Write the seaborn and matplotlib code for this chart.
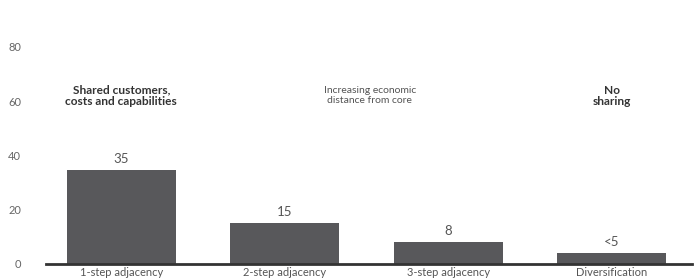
import matplotlib
matplotlib.use("Agg")
import matplotlib.pyplot as plt
import seaborn as sns
import pandas as pd

categories = ["1-step adjacency", "2-step adjacency", "3-step adjacency", "Diversification"]
values = [34.7, 15.2, 8.0, 4.2]
value_labels = ["35", "15", "8", "<5"]
yticks = [0, 20, 40, 60, 80]

sns.set_theme(style="white")
plt.rcParams['font.family'] = ['Lato', 'DejaVu Sans']

df = pd.DataFrame({"cat": categories, "val": values})

fig = plt.figure(figsize=(6.96, 2.79), dpi=100)
ax = fig.add_axes([46/696, 15/279, (692-46)/696, (264-47)/279])
bar_color = "#58585b"
text_color = "#555555"
sns.barplot(data=df, x="cat", y="val", color=bar_color, width=0.667, ax=ax,
            saturation=1, edgecolor="none")

ax.set_xlim(-0.46, 3.49)
ax.set_ylim(0, 80)
ax.set_yticks(yticks)
ax.set_yticklabels([str(t) for t in yticks], color="#666666", fontsize=8)
ax.tick_params(axis='y', length=0, pad=18)
ax.tick_params(axis='x', length=0, pad=2, labelsize=8, labelcolor=text_color)
ax.set_xlabel("")
ax.set_ylabel("")
for s in ["top", "right", "left"]:
    ax.spines[s].set_visible(False)
ax.spines["bottom"].set_color("#333333")
ax.spines["bottom"].set_linewidth(2)

for i, (v, lab) in enumerate(zip(values, value_labels)):
    ax.text(i, v + 1.8, lab, ha="center", va="bottom", fontsize=9.5, color=text_color)

ax.text(0, 62, "Shared customers,\ncosts and capabilities", ha="center", va="center",
        fontsize=8.6, fontweight="bold", color="#333333", linespacing=1.0)
ax.text(1.52, 62, "Increasing economic\ndistance from core", ha="center", va="center",
        fontsize=7.5, color=text_color, linespacing=1.1)
ax.text(3, 62, "No\nsharing", ha="center", va="center",
        fontsize=8.6, fontweight="bold", color="#333333", linespacing=1.0)

fig.savefig("out.png", dpi=100)
